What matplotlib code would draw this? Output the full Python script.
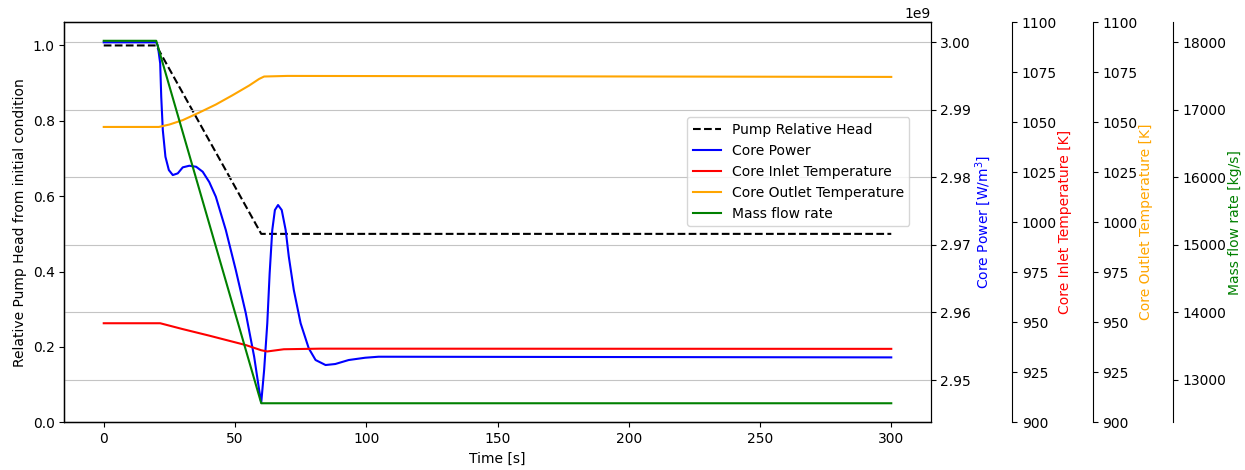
import matplotlib
matplotlib.use('Agg')
import matplotlib.pyplot as plt

# pump relative head (piecewise linear coast-down)
head_t = [0, 20, 60, 300]
head = [1.0, 1.0, 0.5, 0.5]

# core power density [W/m3]
power_t = [0, 20, 20.6, 21.5, 21.9, 22.5, 23.5, 24.8, 26.3, 28.2, 30.1,
           32.6, 35.2, 37.7, 40.2, 42.7, 46.5, 50.3, 54.1, 57.3, 59.2, 60.0,
           61.1, 62.3, 63.2, 64.2, 65.2, 66.4, 67.8, 69.3, 70.5, 72.4, 75.0,
           78.1, 80.7, 84.5, 88.2, 93.3, 99.6, 104.7, 300]
power = [3.0e9, 3.0e9, 2.9995e9, 2.99689e9, 2.99195e9, 2.98701e9, 2.98306e9,
         2.98109e9, 2.98035e9, 2.98060e9, 2.98149e9, 2.98173e9, 2.98158e9,
         2.98084e9, 2.97931e9, 2.97714e9, 2.97221e9, 2.96629e9, 2.95992e9,
         2.95345e9, 2.94852e9, 2.94667e9, 2.95148e9, 2.95839e9, 2.96580e9,
         2.97221e9, 2.97517e9, 2.97591e9, 2.97517e9, 2.97221e9, 2.96826e9,
         2.96333e9, 2.95840e9, 2.95469e9, 2.95296e9, 2.95222e9, 2.95237e9,
         2.95296e9, 2.95330e9, 2.95345e9, 2.95335e9]

# core inlet temperature [K]
t_in_t = [0, 21.5, 30.0, 40.2, 47.0, 54.1, 60.0, 62.3, 68.6, 82.5, 300]
t_in = [949.5, 949.5, 946.6, 943.3, 941.0, 938.6, 936.0, 935.4, 936.5,
        936.8, 936.7]

# core outlet temperature [K]
t_out_t = [0, 21.0, 25.0, 30.1, 36.4, 42.7, 49.0, 55.4, 59.2, 61.1, 70, 300]
t_out = [1047.6, 1047.6, 1048.8, 1051.0, 1054.8, 1058.8, 1063.4, 1068.3,
         1071.6, 1072.8, 1073.1, 1072.6]

# core mass flow rate [kg/s]
flow_t = [0, 20, 60, 300]
flow = [18024, 18024, 12655, 12655]

fig, ax = plt.subplots(figsize=(12.45, 4.7), dpi=100)
fig.subplots_adjust(left=0.0517, right=0.7475, bottom=0.1015, top=0.953)

ax2 = ax.twinx()
ax3 = ax.twinx()
ax4 = ax.twinx()
ax5 = ax.twinx()
ax3.spines['right'].set_position(('axes', 1.094))
ax4.spines['right'].set_position(('axes', 1.187))
ax5.spines['right'].set_position(('axes', 1.28))

l1, = ax.plot(head_t, head, 'k--', label='Pump Relative Head')
l2, = ax2.plot(power_t, power, color='b', label='Core Power')
l3, = ax3.plot(t_in_t, t_in, color='r', label='Core Inlet Temperature')
l4, = ax4.plot(t_out_t, t_out, color='orange', label='Core Outlet Temperature')
l5, = ax5.plot(flow_t, flow, color='g', label='Mass flow rate')

ax.set_ylim(0, 1.062)
ax2.set_ylim(2.94374e9, 3.0030e9)
ax3.set_ylim(900, 1100)
ax4.set_ylim(900, 1100)
ax5.set_ylim(12373, 18301)
ax2.grid(True, color='#c4c4c4')

ax.set_xlabel('Time [s]')
ax.set_ylabel('Relative Pump Head from initial condition')
ax2.set_ylabel('Core Power [W/m$^3$]', color='b', labelpad=1)
ax3.set_ylabel('Core Inlet Temperature [K]', color='r', labelpad=1)
ax4.set_ylabel('Core Outlet Temperature [K]', color='orange', labelpad=1)
ax5.set_ylabel('Mass flow rate [kg/s]', color='g', labelpad=1)

lines = [l1, l2, l3, l4, l5]
ax5.legend(lines, [l.get_label() for l in lines], loc='upper left',
           bbox_to_anchor=(0.719, 0.762), borderaxespad=0)

plt.savefig('out.png')
